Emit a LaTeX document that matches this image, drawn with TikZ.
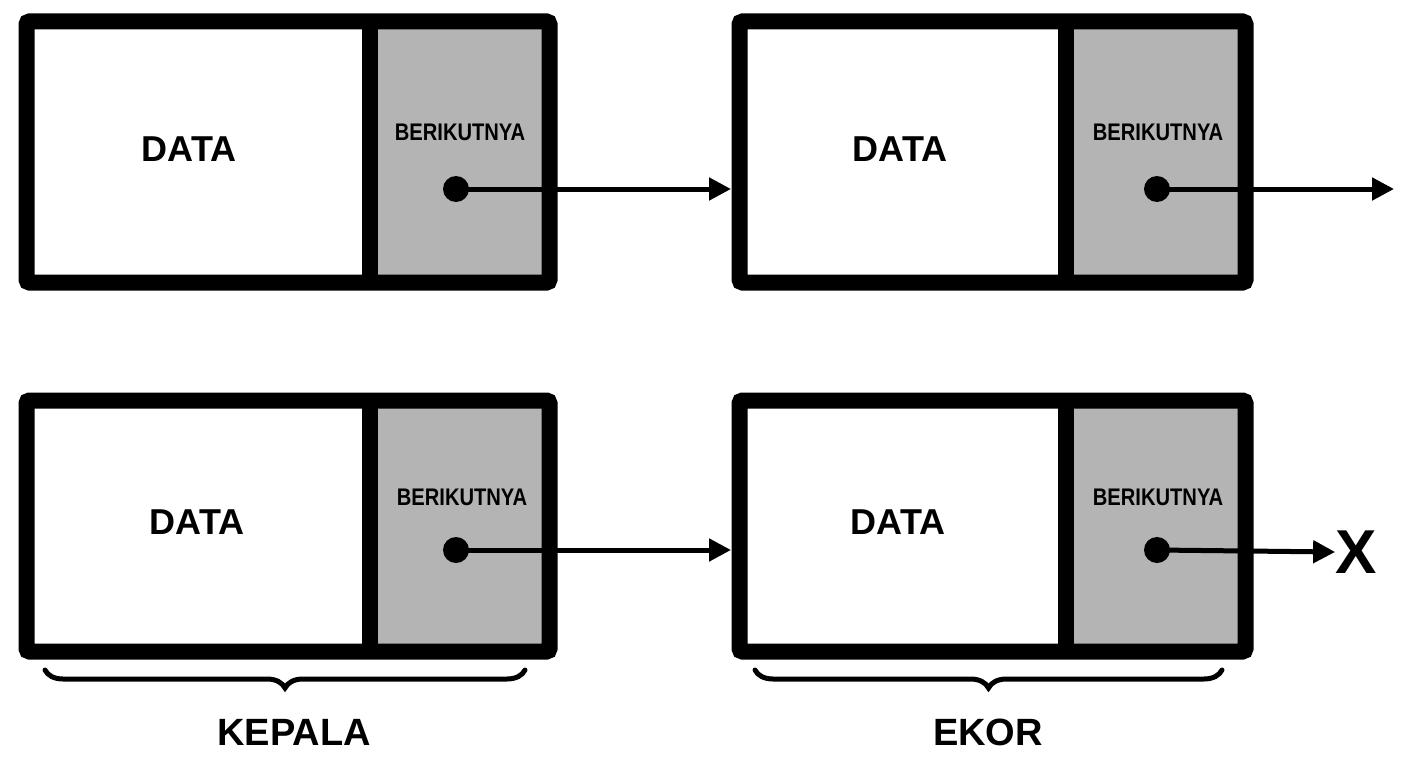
\documentclass[tikz,border=0pt]{standalone}
\usepackage{fontspec}
\setmainfont{Liberation Sans}
\usetikzlibrary{arrows.meta,decorations.pathreplacing}
\definecolor{cellgray}{HTML}{B4B4B4}
\begin{document}
\begin{tikzpicture}[x=1pt,y=-1pt,
  frame/.style={line width=16pt,rounded corners=3pt},
  datatxt/.style={font=\bfseries\fontsize{36}{36}\selectfont},
  nexttxt/.style={font=\bfseries\fontsize{24}{24}\selectfont,xscale=0.84},
  dot/.style={circle,fill=black,inner sep=0pt,minimum size=26pt},
  link/.style={line width=5pt,-{Triangle[length=22pt,width=22pt]}},
  lbl/.style={font=\bfseries\fontsize{38}{38}\selectfont},
  brc/.style={line width=5pt,line cap=round,decorate,decoration={brace,mirror,amplitude=18pt,aspect=0.5}}]
\useasboundingbox[fill=white] (0,0) rectangle (1408,768);
% node boxes
\foreach \n/\xa/\xs/\xb/\ya/\yb in {1/26.5/370/549.5/21.5/282.5, 2/739.5/1066/1245.5/21.5/282.5, 3/26.5/370/549.5/400.5/651.5, 4/739.5/1066/1245.5/400.5/651.5}{
  \fill[cellgray] (\xs,\ya) rectangle (\xb,\yb);
  \draw[frame] (\xa,\ya) rectangle (\xb,\yb);
  \draw[line width=16pt] (\xs,\ya) -- (\xs,\yb);
}
\node[datatxt] (d1) at (189,149) {DATA};
\node[datatxt] (d2) at (900,149) {DATA};
\node[datatxt] (d3) at (197,522) {DATA};
\node[datatxt] (d4) at (898,522) {DATA};
\node[nexttxt] (b1) at (460,132) {BERIKUTNYA};
\node[nexttxt] (b2) at (1158,132) {BERIKUTNYA};
\node[nexttxt] (b3) at (462,497) {BERIKUTNYA};
\node[nexttxt] (b4) at (1158,497) {BERIKUTNYA};
\node[dot] (p1) at (456,189) {};
\node[dot] (p2) at (1157,189) {};
\node[dot] (p3) at (456,550) {};
\node[dot] (p4) at (1157,550) {};
\coordinate (t1) at (731,189);
\coordinate (t2) at (1394,189);
\coordinate (t3) at (731,550);
\node[font=\bfseries\fontsize{62}{62}\selectfont,inner sep=0pt] (x) at (1356,552) {X};
\draw[link] (p1.center) -- (t1);
\draw[link] (p2.center) -- (t2);
\draw[link] (p3.center) -- (t3);
\draw[link] (p4.center) -- (x.west);
% braces
\coordinate (k1) at (45,670);
\coordinate (k2) at (525,670);
\coordinate (e1) at (755,670);
\coordinate (e2) at (1222,670);
\draw[brc] (k1) -- (k2);
\draw[brc] (e1) -- (e2);
\node[lbl] (kep) at (294,732) {KEPALA};
\node[lbl] (eko) at (988,732) {EKOR};
\end{tikzpicture}
\end{document}
